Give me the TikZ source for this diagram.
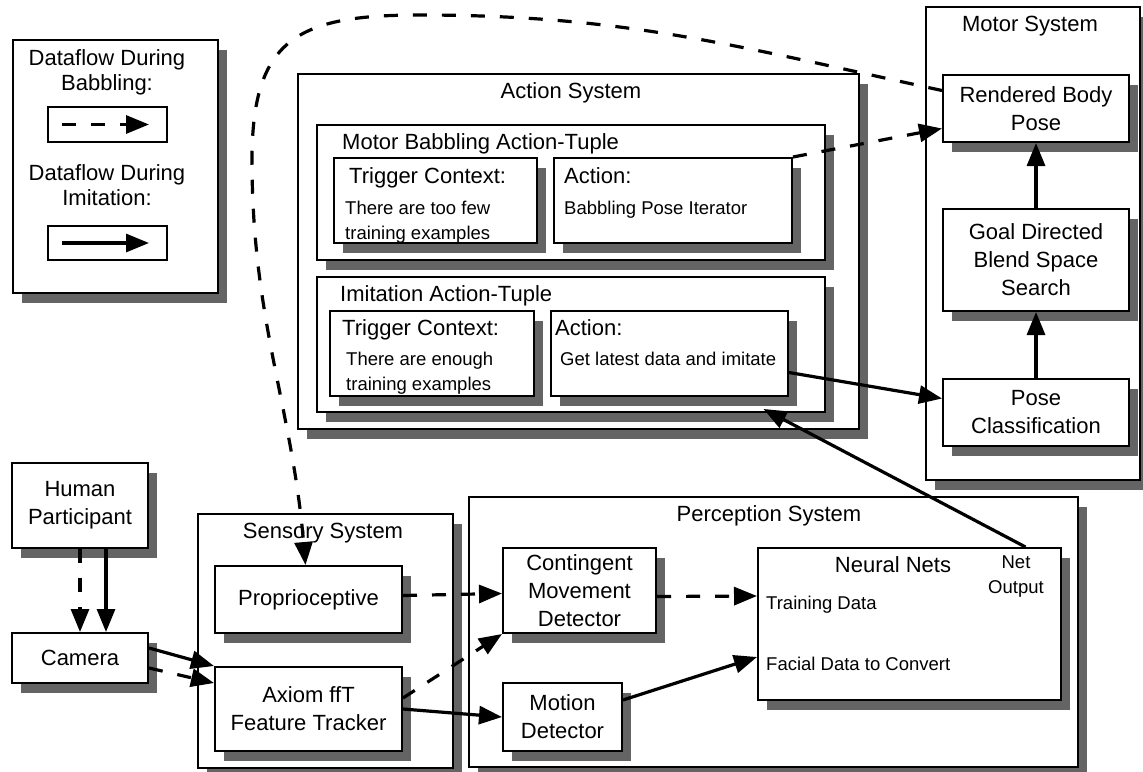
\documentclass[tikz,border=0pt]{standalone}
\usepackage{fontspec}
\setmainfont{Liberation Sans}
\usepackage{tikz}
\usetikzlibrary{arrows.meta,positioning,shadows}
\definecolor{ShadeGray}{RGB}{100,100,100}
\newcommand{\bigtxt}{\fontsize{22}{28}\selectfont}
\newcommand{\smalltxt}{\fontsize{18.5}{25}\selectfont}

\begin{document}
\begin{tikzpicture}[x=1pt,y=-1pt,
        box/.style={draw,fill=white,line width=2pt,inner sep=0pt,align=center,font=\bigtxt,
                    drop shadow={shadow xshift=9pt,shadow yshift=-10pt,fill=ShadeGray,opacity=1}},
        plainbox/.style={draw,fill=white,line width=2pt,inner sep=0pt},
        lbl/.style={inner sep=0pt,font=\bigtxt},
        sm/.style={inner sep=0pt,font=\smalltxt,align=left},
        arr/.style={-{Triangle[length=23pt,width=18pt]},line width=3.2pt},
        dsh/.style={arr,dash pattern=on 14pt off 15pt}
      ]
        \useasboundingbox (0,0) rectangle (1143,771);
        \node[box,minimum width=205pt,minimum height=253pt] (legend) at (115.5,166.5) {};
        \node[lbl,align=center,anchor=north,font=\fontsize{22}{25}\selectfont] (legB) at (107,49) {Dataflow During\\Babbling:};
        \node[plainbox,minimum width=119pt,minimum height=35pt] (lb1) at (107.5,124.5) {};
        \node[lbl,align=center,anchor=north,font=\fontsize{22}{25}\selectfont] (legI) at (107,164) {Dataflow During\\Imitation:};
        \node[plainbox,minimum width=119pt,minimum height=34pt] (lb2) at (107.5,243) {};

        \node[box,minimum width=561pt,minimum height=355pt] (act) at (578.5,251.5) {};
        \node[lbl,anchor=base] (actT) at (571,98) {Action System};
        \node[box,minimum width=508pt,minimum height=135pt] (tupB) at (571,192.5) {};
        \node[lbl,anchor=base west] (tupBT) at (342,149) {Motor Babbling Action-Tuple};
        \node[box,minimum width=203pt,minimum height=85pt] (tc1) at (435.5,200.5) {};
        \node[box,minimum width=238pt,minimum height=85pt,right=15pt of tc1] (a1) {};
        \node[lbl,anchor=base west] (tc1h) at (349,183) {Trigger Context:};
        \node[sm,anchor=north west] (tc1b) at (345,200.5) {There are too few\\training examples};
        \node[lbl,anchor=base west] (a1h) at (564,183) {Action:};
        \node[sm,anchor=base west] (a1b) at (564,214) {Babbling Pose Iterator};

        \node[box,minimum width=508pt,minimum height=135pt,below=15pt of tupB] (tupI) {};
        \node[lbl,anchor=base west] (tupIT) at (340,301) {Imitation Action-Tuple};
        \node[box,minimum width=204pt,minimum height=85pt] (tc2) at (432,353.5) {};
        \node[box,minimum width=237pt,minimum height=85pt,right=15pt of tc2] (a2) {};
        \node[lbl,anchor=base west] (tc2h) at (342,335) {Trigger Context:};
        \node[sm,anchor=north west] (tc2b) at (346,351.5) {There are enough\\training examples};
        \node[lbl,anchor=base west] (a2h) at (555,335) {Action:};
        \node[sm,anchor=base west] (a2b) at (560,365) {Get latest data and imitate};

        \node[box,minimum width=214pt,minimum height=473pt] (mot) at (1033,243.5) {};
        \node[lbl,anchor=base] (motT) at (1030,31) {Motor System};
        \node[box,minimum width=186pt,minimum height=67pt] (rend) at (1036,108.5) {Rendered Body\\Pose};
        \node[box,minimum width=186pt,minimum height=102pt,below=65pt of rend] (goal) {Goal Directed\\Blend Space\\Search};
        \node[box,minimum width=186pt,minimum height=67pt,below=66pt of goal] (pose) {Pose\\Classification};

        \node[box,minimum width=136pt,minimum height=85pt] (human) at (80,505.5) {Human\\Participant};
        \node[box,minimum width=136pt,minimum height=50pt,below=83pt of human] (cam) {Camera};

        \node[box,minimum width=255pt,minimum height=254pt] (sens) at (325.5,641) {};
        \node[lbl,anchor=base] (sensT) at (323,538) {Sensory System};
        \node[box,minimum width=187pt,minimum height=67pt] (prop) at (308.5,599.5) {Proprioceptive};
        \node[box,minimum width=187pt,minimum height=84pt,below=32pt of prop] (axiom) {Axiom ffT\\Feature Tracker};

        \node[box,minimum width=609pt,minimum height=270pt] (perc) at (773.5,632) {};
        \node[lbl,anchor=base] (percT) at (769,521) {Perception System};
        \node[box,minimum width=153pt,minimum height=85pt] (cont) at (579.5,590.5) {Contingent\\Movement\\Detector};
        \node[box,minimum width=119pt,minimum height=68pt,below=48pt of cont.south west,anchor=north west] (motion) {Motion\\Detector};
        \node[box,minimum width=303pt,minimum height=152pt] (nn) at (909.5,624) {};
        \node[lbl,anchor=base] (nnT) at (893,572) {Neural Nets};
        \node[sm,align=center,anchor=north] (nnO) at (1016,555.5) {Net\\Output};
        \node[sm,anchor=base west] (nnTD) at (766,609) {Training Data};
        \node[sm,anchor=base west] (nnFD) at (766,670) {Facial Data to Convert};

        \draw[dsh] ([xshift=15pt]lb1.west) -- ([xshift=-19pt]lb1.east);
        \draw[arr] ([xshift=15pt]lb2.west) -- ([xshift=-19pt]lb2.east);

        \draw[dsh] ([yshift=18pt]rend.west) .. controls (740,47) and (627,15) .. (420,15)
                   .. controls (298,15) and (252,38) .. (252,160)
                   .. controls (252,320) and (292,407) .. ([xshift=-3pt]prop.north);
        \draw[dsh] (a1.north east) -- ([yshift=-20pt]rend.west);
        \draw[arr] (goal) -- (rend); \draw[arr] (pose) -- (goal);
        \draw[arr] ([yshift=-19pt]a2.east) -- ([yshift=14pt]pose.west);
        \draw[arr] ([xshift=116pt]nn.north) -- ([xshift=94pt,yshift=-12pt]a2.south);

        \draw[dsh] (human.south) -- (cam.north);
        \draw[arr] ([xshift=26pt]human.south) -- ([xshift=26pt]cam.north);
        \draw[arr] ([yshift=10pt]cam.east) -- (axiom.north west);
        \draw[dsh] ([yshift=-10pt]cam.east) -- ([yshift=26pt]axiom.west);
        \draw[dsh] ([yshift=4pt]prop.east) -- ([yshift=-3pt]cont.west);
        \draw[dsh] ([yshift=11pt]axiom.east) -- (cont.south west);
        \draw[arr] (axiom.east) -- (motion.west);
        \draw[dsh] ([yshift=-6pt]cont.east) -- ([yshift=28pt]nn.west);
        \draw[arr] ([yshift=17pt]motion.east) -- ([yshift=-33pt]nn.west);
      \end{tikzpicture}
\end{document}
